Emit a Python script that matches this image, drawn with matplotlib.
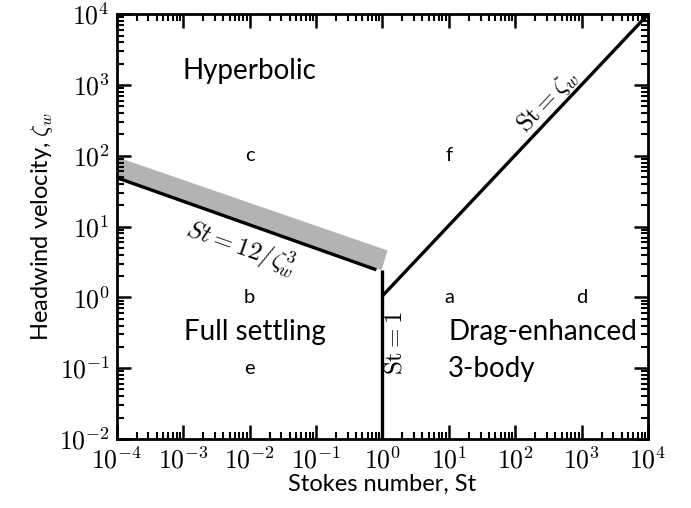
import matplotlib.pyplot as plt
import numpy as np
from matplotlib.ticker import FuncFormatter, LogLocator
from matplotlib.patches import Polygon

plt.rcParams['font.family'] = ['Lato', 'DejaVu Sans']
plt.rcParams['mathtext.fontset'] = 'cm'

# limites de los regimenes
st_settle = [1e-4, 0.81]
zeta_settle = [49, 2.45]

band_st = [1e-4, 1e-4, 1.19, 0.97]
band_zeta = [49, 96, 4.6, 2.42]

st_one = [1, 1]
zeta_one = [1e-2, 2.42]

st_diag = [1, 1e4]
zeta_diag = [1.05, 1e4]

# letras de los paneles
letras = ['a', 'b', 'c', 'd', 'e', 'f']
letras_st = [10, 1e-2, 1e-2, 1e3, 1e-2, 10]
letras_zeta = [1, 1, 1e2, 1, 1e-1, 1e2]

fig, ax = plt.subplots(figsize=(6.91, 5.08), dpi=100)
fig.subplots_adjust(left=0.169, right=0.938, top=0.972, bottom=0.136)

ax.set_xscale('log')
ax.set_yscale('log')
ax.set_xlim(1e-4, 1e4)
ax.set_ylim(1e-2, 1e4)

ax.add_patch(Polygon(np.column_stack([band_st, band_zeta]), closed=True,
                     facecolor='#b3b3b3', edgecolor='none', zorder=1))
ax.plot(st_settle, zeta_settle, color='black', lw=2.4, solid_capstyle='butt', zorder=2)
ax.plot(st_one, zeta_one, color='black', lw=2.4, solid_capstyle='butt', zorder=2)
ax.plot(st_diag, zeta_diag, color='black', lw=2.4, solid_capstyle='butt', zorder=2)

for l, sx, sy in zip(letras, letras_st, letras_zeta):
    ax.text(sx, sy, l, fontsize=14.5, ha='center', va='center')

ax.text(1e-2, 1.6e3, 'Hyperbolic', fontsize=20, ha='center', va='center')
ax.text(1.2e-2, 0.32, 'Full settling', fontsize=20, ha='center', va='center')
ax.text(9.8, 0.32, 'Drag-enhanced', fontsize=20, ha='left', va='center')
ax.text(9.8, 0.098, '3-body', fontsize=20, ha='left', va='center')

ax.text(7.2e-3, 4.9, r'$St = 12/\zeta_w^3$', fontsize=18, rotation=-19.6,
        ha='center', va='center', rotation_mode='anchor')
ax.text(300, 590, r'$\mathrm{St} = \zeta_w$', fontsize=18, rotation=46.8,
        ha='center', va='center', rotation_mode='anchor')
ax.text(1.5, 0.225, r'$\mathrm{St} = 1$', fontsize=18, rotation=90,
        ha='center', va='center', rotation_mode='anchor')

ax.set_xlabel('Stokes number, St', fontsize=17, labelpad=0)
ax.set_ylabel(r'Headwind velocity, $\zeta_w$', fontsize=17, labelpad=3)

fmt = FuncFormatter(lambda v, pos: r'$10^{%d}$' % int(round(np.log10(v))))
for eje in (ax.xaxis, ax.yaxis):
    eje.set_major_locator(LogLocator(base=10, numticks=20))
    eje.set_minor_locator(LogLocator(base=10, subs=np.arange(2, 10), numticks=20))
    eje.set_major_formatter(fmt)

ax.tick_params(which='both', direction='in', top=True, right=True, labelsize=18.5)
ax.tick_params(axis='x', which='major', pad=6)
ax.tick_params(axis='y', which='major', pad=5)
ax.tick_params(which='major', length=10, width=1.8)
ax.tick_params(which='minor', length=5, width=1.5)
for s in ax.spines.values():
    s.set_linewidth(2)

plt.savefig('out.png', dpi=100)
plt.close()
